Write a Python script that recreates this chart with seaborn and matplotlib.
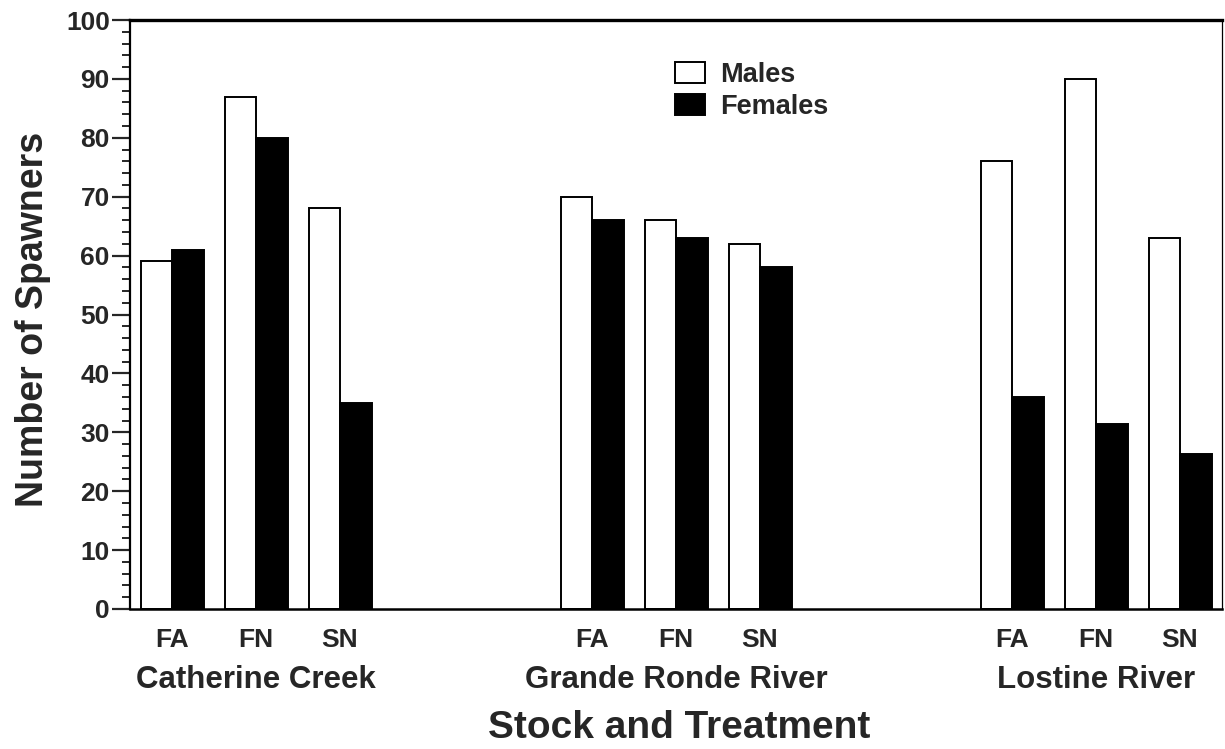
import matplotlib
matplotlib.use("Agg")
import matplotlib.pyplot as plt
from matplotlib.ticker import MultipleLocator
import numpy as np
import pandas as pd
import seaborn as sns

# Spawner counts by stock, treatment and sex
stocks = ["Catherine Creek", "Grande Ronde River", "Lostine River"]
treatments = ["FA", "FN", "SN"]
sexes = ["Males", "Females"]
males = [59, 87, 68, 70, 66, 62, 76, 90, 63]
females = [61, 80, 35, 66, 63, 58, 36, 31.4, 26.3]

# Build a long table; each stock occupies three slots followed by a two-slot gap
rows = []
slots = []
for si, stock in enumerate(stocks):
    for ti, trt in enumerate(treatments):
        k = si * len(treatments) + ti
        slot = si * 5 + ti
        slots.append(slot)
        rows.append({"slot": slot, "sex": sexes[0], "count": males[k]})
        rows.append({"slot": slot, "sex": sexes[1], "count": females[k]})
df = pd.DataFrame(rows)

sns.set_style("ticks")
plt.rcParams["font.family"] = ["Liberation Sans", "DejaVu Sans"]
plt.rcParams["font.weight"] = "bold"

fig = plt.figure(figsize=(12.25, 7.49), dpi=100)
ax = fig.add_axes([130 / 1225, 1 - 609 / 749, 1092 / 1225, 589 / 749])

sns.barplot(
    data=df, x="slot", y="count", hue="sex", hue_order=sexes,
    palette={"Males": "white", "Females": "black"},
    native_scale=True, width=0.75, gap=0, errorbar=None,
    edgecolor="black", linewidth=1.4, saturation=1, ax=ax,
)

ax.set_xlim(-0.5, 12.5)
ax.set_ylim(0, 100)

# y axis: labelled ticks every 10, minor ticks every 2
ax.yaxis.set_major_locator(MultipleLocator(10))
ax.yaxis.set_minor_locator(MultipleLocator(2))
ax.tick_params(axis="y", which="major", length=13, width=1.6, pad=1.5,
               labelsize=19, direction="out")
ax.tick_params(axis="y", which="minor", length=6, width=1.4, direction="out")
for lbl in ax.get_yticklabels():
    lbl.set_fontweight("bold")

# x axis: treatment labels beneath each pair, stock names beneath those
ax.set_xticks(slots)
ax.set_xticklabels(treatments * len(stocks), fontsize=19, fontweight="bold")
ax.tick_params(axis="x", which="both", length=0, pad=14)
for si, stock in enumerate(stocks):
    ax.text(si * 5 + 1, -0.134, stock, transform=ax.get_xaxis_transform(),
            ha="center", va="baseline", fontsize=22.5, fontweight="bold")

ax.set_xlabel("Stock and Treatment", fontsize=28, fontweight="bold")
ax.xaxis.set_label_coords(0.503, -0.172)
ax.set_ylabel("Number of Spawners", fontsize=27, fontweight="bold")
ax.yaxis.set_label_coords(-0.072, 0.491)

for side, lw in {"left": 1.6, "bottom": 1.8, "top": 2.4, "right": 0.9}.items():
    ax.spines[side].set_visible(True)
    ax.spines[side].set_linewidth(lw)
    ax.spines[side].set_color("black")

sns.move_legend(
    ax, "upper left", bbox_to_anchor=(0.499, 0.929), frameon=False, title=None,
    fontsize=19.5, handlelength=1.12, handleheight=0.78, handletextpad=0.55,
    labelspacing=0.22, borderpad=0, borderaxespad=0,
)
for t in ax.get_legend().get_texts():
    t.set_fontweight("bold")

fig.savefig("out.png", dpi=100, facecolor="white")
